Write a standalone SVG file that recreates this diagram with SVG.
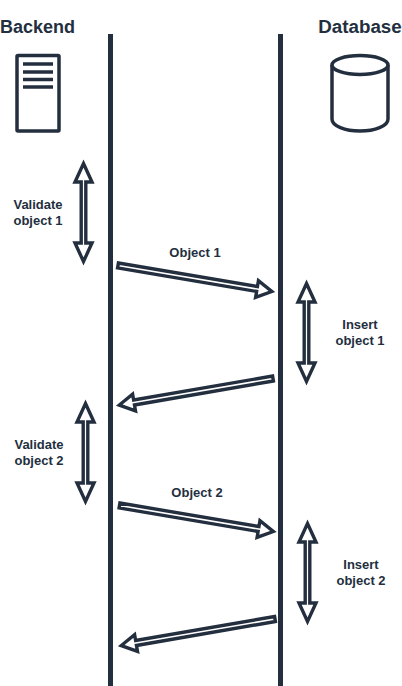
<svg xmlns="http://www.w3.org/2000/svg" xmlns:xlink="http://www.w3.org/1999/xlink" width="402" height="686" viewBox="0 0 402 686">
<style>
text{font-family:"Liberation Sans",Arial,sans-serif;font-weight:bold;fill:#232f3e;text-anchor:middle}
.t{font-size:18px}
.d{font-size:18.8px}
.l{font-size:13px}
.ln{stroke:#232f3e;stroke-width:5;fill:none}
.ic{stroke:#232f3e;stroke-width:3.5;fill:#fff;stroke-linejoin:round}
.b{stroke:#232f3e;stroke-width:3.5;fill:none}
.a{stroke:#232f3e;stroke-width:3.4;fill:#fff;stroke-linejoin:miter;stroke-miterlimit:3}
</style>
<defs>
<path id="h" class="a" d="M0,-2.5L141,-2.5L141,-8.5L156,0L141,8.5L141,2.5L0,2.5Z"/>
<path id="v" class="a" d="M0,0L8.5,18.5L2.3,18.5L2.3,79.5L8.5,79.5L0,98L-8.5,79.5L-2.3,79.5L-2.3,18.5L-8.5,18.5Z"/>
</defs>
<rect width="402" height="686" fill="#fff"/>
<g id="backend">
<text class="t" x="37.5" y="33">Backend</text>
<rect class="ic" x="17" y="55.5" width="42" height="75.5" rx="1"/>
<path class="b" d="M23,64H53M23,72H53M23,79.5H53M23,87H53"/>
</g>
<g id="database">
<text class="d" x="360" y="33">Database</text>
<path class="ic" d="M332,65V119C332,126 345,131 360,131C375,131 388,126 388,119V65"/>
<ellipse class="ic" cx="360" cy="65" rx="28" ry="9.5"/>
</g>
<g id="lifelines">
<path class="ln" d="M110.5,34V686"/>
<path class="ln" d="M280.5,34V686"/>
</g>
<g id="connectors">
<use xlink:href="#v" href="#v" x="83.5" y="163.5"/>
<use xlink:href="#v" href="#v" x="306.5" y="283.5"/>
<use xlink:href="#v" href="#v" x="85.5" y="403.5"/>
<use xlink:href="#v" href="#v" x="307.5" y="523.5"/>
<use xlink:href="#h" href="#h" transform="translate(118,265.5) rotate(9.6)"/>
<use xlink:href="#h" href="#h" transform="translate(273,378.5) rotate(170.2)"/>
<use xlink:href="#h" href="#h" transform="translate(119.5,505.5) rotate(9.6)"/>
<use xlink:href="#h" href="#h" transform="translate(275,619) rotate(170.2)"/>
</g>
<g id="labels">
<text class="l" x="38" y="209">Validate</text>
<text class="l" x="38" y="225">object 1</text>
<text class="l" x="195" y="257">Object 1</text>
<text class="l" x="360" y="329">Insert</text>
<text class="l" x="360" y="345">object 1</text>
<text class="l" x="39" y="449">Validate</text>
<text class="l" x="39" y="465">object 2</text>
<text class="l" x="197" y="497">Object 2</text>
<text class="l" x="361" y="569">Insert</text>
<text class="l" x="361" y="585">object 2</text>
</g>
</svg>
